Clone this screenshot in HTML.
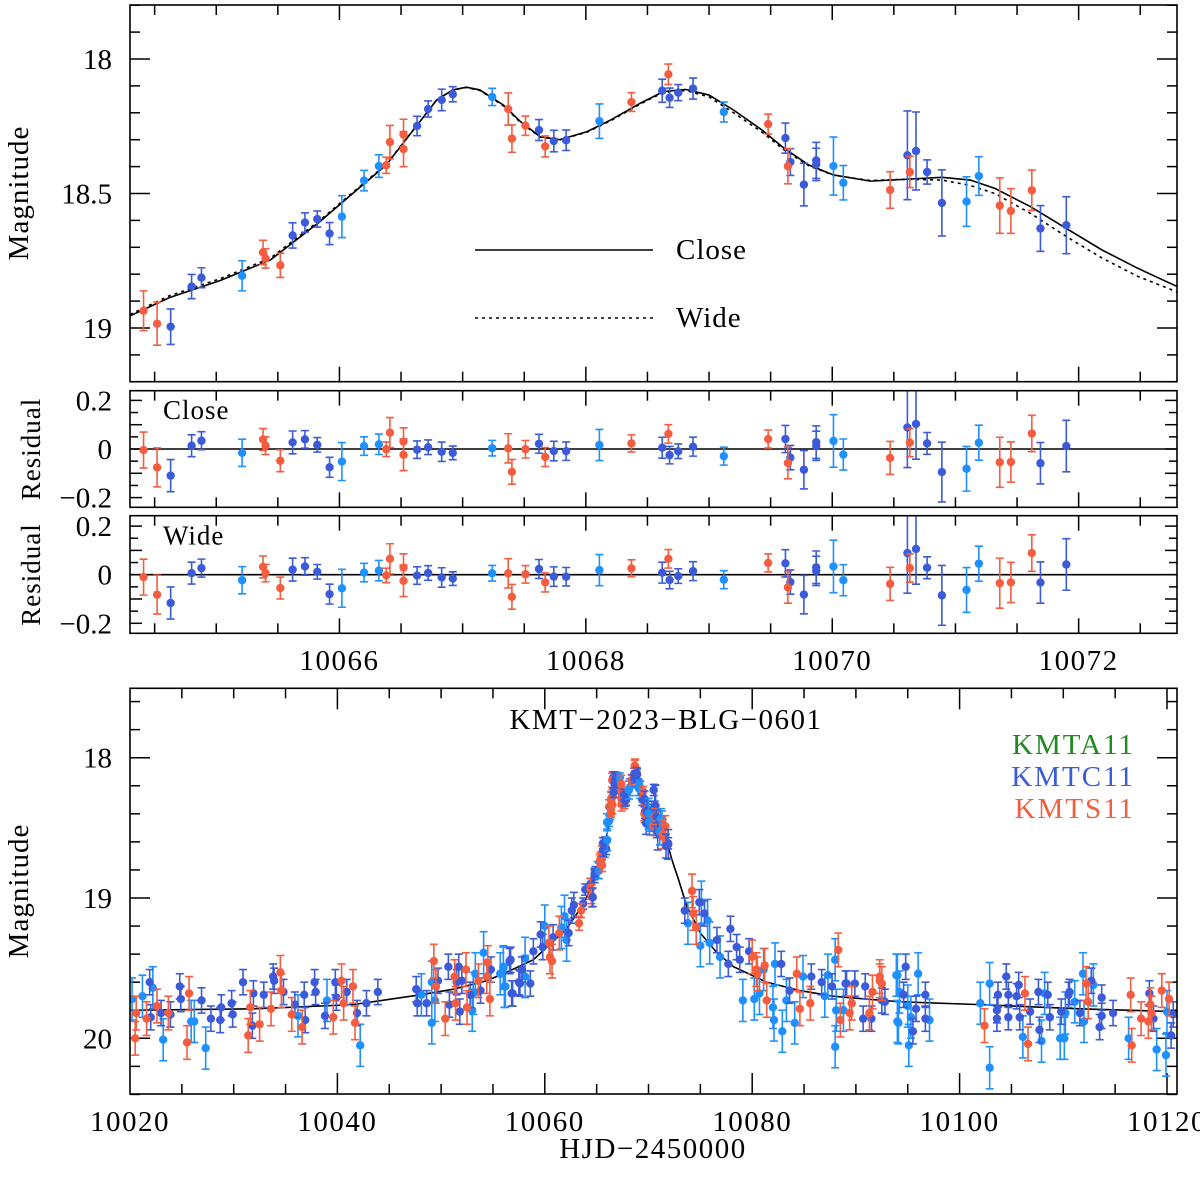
<!DOCTYPE html>
<html><head><meta charset="utf-8"><style>
html,body{margin:0;padding:0;background:#fff}
svg{display:block}
text{font-family:"Liberation Serif",serif}
</style></head><body>
<svg id="chart" width="1200" height="1181" viewBox="0 0 1200 1181" xmlns="http://www.w3.org/2000/svg">
<defs>
<clipPath id="clipTop"><rect x="130" y="5" width="1047" height="376.7"/></clipPath>
<clipPath id="clipRC"><rect x="130" y="390.7" width="1047" height="116.6"/></clipPath>
<clipPath id="clipRW"><rect x="130" y="515.7" width="1047" height="117.6"/></clipPath>
<clipPath id="clipBot"><rect x="130" y="688.3" width="1047" height="405.7"/></clipPath>
</defs>
<g id="layer"></g>
</svg>
<script>
// ---------- data ----------
const topTimes=[10064.41,10064.52,10064.63,10064.80,10064.88,10065.21,10065.38,10065.40,10065.52,10065.62,10065.72,10065.82,10065.92,10066.02,10066.20,10066.32,10066.38,10066.41,10066.52,10066.52,10066.63,10066.72,10066.83,10066.92,10067.24,10067.37,10067.40,10067.51,10067.62,10067.67,10067.74,10067.84,10068.11,10068.37,10068.62,10068.67,10068.68,10068.75,10068.87,10069.12,10069.48,10069.62,10069.66,10069.64,10069.77,10069.87,10069.87,10070.01,10070.09,10070.47,10070.61,10070.68,10070.63,10070.77,10070.89,10071.09,10071.19,10071.36,10071.45,10071.62,10071.69,10071.90];
const topMags=[18.936,18.984,18.995,18.846,18.813,18.806,18.719,18.741,18.767,18.656,18.608,18.595,18.649,18.586,18.452,18.398,18.395,18.309,18.281,18.335,18.249,18.186,18.152,18.131,18.141,18.186,18.296,18.248,18.264,18.325,18.305,18.302,18.231,18.16,18.118,18.057,18.144,18.125,18.11,18.197,18.242,18.294,18.383,18.399,18.467,18.377,18.392,18.398,18.46,18.487,18.358,18.342,18.42,18.42,18.535,18.53,18.435,18.545,18.565,18.488,18.63,18.618];
const topErrs=[.074,.08,.066,.045,.037,.056,.045,.036,.045,.047,.036,.03,.041,.078,.038,.042,.03,.062,.057,.065,.036,.03,.04,.028,.032,.06,.051,.036,.039,.039,.04,.038,.064,.035,.043,.038,.036,.03,.039,.037,.037,.056,.05,.065,.079,.067,.06,.108,.064,.068,.165,.145,.058,.045,.123,.092,.072,.103,.083,.075,.085,.106];
const topTel="SSCCCASSSCCCCAAASSSSCCCCASSSCSCCASCSCCCASCCSCCCAASCCSCCAASSSCC";

const closeModel=[[10064.30,18.955],[10064.62,18.887],[10065.03,18.824],[10065.44,18.747],[10065.84,18.605],[10066.11,18.499],[10066.38,18.394],[10066.60,18.264],[10066.79,18.152],[10066.92,18.115],[10067.03,18.105],[10067.14,18.115],[10067.33,18.171],[10067.47,18.233],[10067.63,18.289],[10067.79,18.30],[10068.01,18.27],[10068.20,18.227],[10068.44,18.165],[10068.63,18.121],[10068.81,18.113],[10069.0,18.134],[10069.2,18.19],[10069.43,18.264],[10069.61,18.332],[10069.81,18.394],[10070.01,18.431],[10070.31,18.454],[10070.60,18.447],[10070.89,18.44],[10071.12,18.45],[10071.32,18.481],[10071.61,18.549],[10071.90,18.63],[10072.19,18.71],[10072.48,18.778],[10072.80,18.846]];
const wideModel=[[10064.30,18.950],[10064.62,18.880],[10065.03,18.817],[10065.44,18.740],[10065.84,18.600],[10066.11,18.495],[10066.38,18.392],[10066.60,18.263],[10066.79,18.152],[10066.92,18.115],[10067.03,18.106],[10067.14,18.117],[10067.33,18.174],[10067.47,18.236],[10067.63,18.291],[10067.79,18.30],[10068.01,18.272],[10068.20,18.230],[10068.44,18.168],[10068.63,18.124],[10068.81,18.117],[10069.0,18.141],[10069.2,18.20],[10069.43,18.272],[10069.61,18.338],[10069.81,18.397],[10070.01,18.432],[10070.31,18.452],[10070.60,18.447],[10070.89,18.450],[10071.12,18.470],[10071.32,18.500],[10071.61,18.574],[10071.90,18.660],[10072.19,18.740],[10072.48,18.808],[10072.80,18.866]];

const bottomA=[[10020.2,19.72],[10021.2,19.70],[10022.2,19.64],[10023.2,20.01],[10025.9,19.88],[10026.2,19.88],[10027.3,20.07],[10036.2,19.84],[10039.0,19.73],[10042.2,20.05],[10048.1,19.69],[10049.1,19.60],[10049.1,19.89],[10049.4,19.73],[10053.0,19.80],[10053.1,19.68],[10053.3,19.54],[10054.1,19.39],[10056.0,19.49],[10056.1,19.63],[10055.7,19.54],[10056.0,19.50],[10056.2,19.63],[10058.1,19.43],[10058.1,19.56],[10060.0,19.20],[10061.6,19.21],[10061.9,19.13],[10062.1,19.30],[10065.1,18.80],[10065.8,18.65],[10066.0,18.46],[10066.9,18.18],[10068.2,18.21],[10069.0,18.21],[10069.2,18.23],[10070.1,18.49],[10070.3,18.37],[10071.3,18.44],[10073.8,19.18],[10075.0,19.34],[10075.1,19.03],[10075.7,19.16],[10075.9,19.32],[10076.9,19.42],[10079.1,19.73],[10080.2,19.72],[10080.7,19.68],[10081.1,19.51],[10082.0,19.78],[10082.1,19.87],[10082.2,19.47],[10082.9,19.95],[10083.3,19.73],[10084.1,19.89],[10084.9,19.56],[10087.0,19.70],[10087.3,19.55],[10088.0,20.06],[10088.0,19.44],[10088.1,19.80],[10088.8,19.80],[10093.9,19.55],[10094.1,19.89],[10094.0,19.55],[10094.0,19.88],[10094.2,19.67],[10095.0,19.77],[10095.1,20.05],[10095.3,19.85],[10096.0,19.54],[10097.1,19.87],[10102.0,19.75],[10102.9,19.61],[10102.9,20.21],[10106.1,19.99],[10107.9,20.02],[10108.2,19.68],[10109.7,20.00],[10110.1,20.00],[10110.2,19.82],[10111.1,19.74],[10111.9,19.54],[10112.0,19.88],[10112.9,19.62],[10116.3,20.00],[10119.0,20.08],[10119.9,20.12],[10120.0,19.81]];
const bottomC=[[10021.9,19.60],[10022.0,19.85],[10023.0,19.82],[10023.9,19.83],[10024.8,19.63],[10024.9,19.72],[10026.9,19.73],[10027.8,19.86],[10028.7,19.87],[10028.8,19.78],[10029.8,19.75],[10029.9,19.83],[10030.9,19.60],[10031.8,19.91],[10031.9,19.68],[10032.9,19.69],[10033.8,19.56],[10033.9,19.59],[10034.8,19.67],[10035.9,19.76],[10036.8,19.69],[10036.9,19.87],[10037.8,19.60],[10037.9,19.67],[10038.8,19.84],[10039.8,19.60],[10039.9,19.71],[10040.9,19.67],[10041.9,19.82],[10042.8,19.75],[10043.9,19.67],[10047.6,19.65],[10047.7,19.75],[10048.6,19.75],[10049.7,19.59],[10050.7,19.49],[10050.8,19.76],[10051.5,19.60],[10051.7,19.49],[10051.8,19.81],[10052.0,19.59],[10052.8,19.69],[10053.8,19.66],[10054.8,19.51],[10056.7,19.44],[10056.8,19.68],[10057.5,19.60],[10056.6,19.45],[10056.9,19.68],[10057.6,19.61],[10057.8,19.51],[10058.6,19.61],[10058.9,19.38],[10059.6,19.26],[10059.8,19.35],[10060.8,19.28],[10062.3,19.25],[10062.6,19.09],[10062.8,19.05],[10063.7,19.04],[10063.9,18.94],[10064.4,18.90],[10064.8,18.83],[10065.6,18.61],[10066.6,18.14],[10067.9,18.25],[10068.4,18.16],[10068.9,18.12],[10069.4,18.30],[10069.8,18.44],[10070.5,18.23],[10070.6,18.35],[10070.8,18.53],[10071.9,18.61],[10073.5,19.09],[10074.9,19.03],[10075.4,19.11],[10076.6,19.30],[10077.7,19.47],[10077.9,19.22],[10078.5,19.35],[10078.8,19.44],[10079.7,19.38],[10082.8,19.47],[10083.6,19.66],[10085.7,19.56],[10086.7,19.60],[10087.7,19.63],[10089.0,19.61],[10089.1,19.61],[10089.9,19.61],[10090.7,19.86],[10090.9,19.63],[10091.5,19.86],[10092.8,19.74],[10092.5,19.73],[10094.6,19.69],[10094.8,19.49],[10095.5,19.95],[10095.8,19.79],[10096.7,19.69],[10096.7,19.86],[10103.6,19.80],[10103.7,19.69],[10103.6,19.86],[10104.5,19.56],[10104.7,19.69],[10104.7,19.85],[10105.5,19.70],[10105.7,19.62],[10105.8,19.85],[10106.8,19.81],[10107.6,19.67],[10107.7,19.94],[10108.5,19.69],[10108.7,19.85],[10109.8,19.81],[10110.5,19.69],[10110.6,19.67],[10111.6,19.82],[10112.7,19.59],[10113.5,19.92],[10113.7,19.84],[10113.7,19.71],[10114.8,19.82],[10118.3,19.68],[10118.7,19.86],[10120.4,19.98],[10120.6,19.83]];
const bottomS=[[10020.6,19.82],[10020.5,20.00],[10021.6,19.86],[10022.6,19.77],[10023.7,19.82],[10025.5,20.03],[10025.7,19.68],[10031.4,19.98],[10031.6,19.78],[10032.5,19.90],[10033.6,19.79],[10034.5,19.53],[10034.6,19.66],[10035.6,19.83],[10036.6,19.92],[10039.6,19.85],[10040.4,19.59],[10040.6,19.75],[10041.5,19.63],[10041.7,19.89],[10049.3,19.45],[10049.5,19.63],[10050.4,19.86],[10051.3,19.56],[10051.4,19.75],[10052.4,19.51],[10052.5,19.78],[10053.6,19.59],[10054.4,19.56],[10054.5,19.46],[10054.7,19.72],[10060.4,19.32],[10060.5,19.42],[10060.7,19.45],[10061.4,19.25],[10063.3,19.18],[10063.5,19.09],[10064.5,18.99],[10065.3,18.74],[10065.5,18.68],[10066.2,18.35],[10066.4,18.29],[10066.5,18.16],[10067.1,18.23],[10067.4,18.33],[10067.6,18.31],[10068.7,18.06],[10069.6,18.40],[10070.9,18.44],[10071.4,18.49],[10071.6,18.57],[10074.2,18.95],[10074.3,19.11],[10074.6,19.21],[10080.0,19.42],[10080.4,19.51],[10080.5,19.54],[10081.2,19.48],[10081.4,19.73],[10084.3,19.54],[10084.6,19.79],[10085.6,19.75],[10088.3,19.37],[10088.5,19.87],[10089.4,19.82],[10089.6,19.75],[10091.3,19.82],[10091.6,19.67],[10092.3,19.56],[10092.5,19.61],[10092.3,19.59],[10102.4,19.91],[10106.3,19.68],[10106.6,20.04],[10112.2,19.61],[10112.4,19.74],[10116.5,19.69],[10116.6,20.05],[10117.5,19.86],[10118.2,19.88],[10118.4,19.76],[10118.5,19.82],[10119.5,19.66],[10120.2,19.72]];
const typicalErr={A:0.15,C:0.09,S:0.12};
const peakErr={A:0.06,C:0.04,S:0.05};
const bottomModelWings=[[10020,19.80],[10031.9,19.79],[10041.5,19.76],[10048,19.69],[10051.2,19.65],[10054.4,19.59],[10056,19.54],[10058.9,19.44],[10062.1,19.22],[10063.2,19.10],[10064.0,19.00]];
const bottomModelTail=[[10073.7,19.06],[10075,19.25],[10076.6,19.39],[10078.2,19.49],[10081.4,19.60],[10084.6,19.66],[10087.8,19.70],[10091,19.72],[10094.3,19.74],[10102,19.76],[10111.6,19.79],[10121,19.81]];
const topXTicks=[10066,10068,10070,10072];
const topYTicks=["18","18.5","19"];
const resYTicks=["0.2","0","−0.2"];
const botXTicks=["10020","10040","10060","10080","10100","10120"];
const botYTicks=["18","19","20"];

// ---------- scales ----------
const L=130,R=1177;
const xT=t=>L+(t-10064.30)*123.2;
const yT=m=>59+(m-18)*269;
const yRC=r=>449-r*243;
const yRW=r=>574.7-r*243;
const xB=t=>L+(t-10020)*10.37;
const yB=m=>757.7+(m-18)*140.3;
const COL={A:"#1e90ff",C:"#3b5bd9",S:"#f45d3f"};

const NS="http://www.w3.org/2000/svg";
const root=document.getElementById('layer');
function mk(tag,attrs,parent){const e=document.createElementNS(NS,tag);for(const k in attrs)e.setAttribute(k,attrs[k]);(parent||root).appendChild(e);return e;}
function grp(name,clip){const g=mk('g',clip?{'clip-path':'url(#'+clip+')'}:{});


return g;}
function interp(model,t){if(t<=model[0][0])return model[0][1];for(let i=1;i<model.length;i++){if(t<=model[i][0]){const a=model[i-1],b=model[i];return a[1]+(b[1]-a[1])*(t-a[0])/(b[0]-a[0]);}}return model[model.length-1][1];}
function point(g,x,y,ey1,ey2,c,nm){
  const p=mk('g',{},g);
  
  
  mk('line',{x1:x,x2:x,y1:ey1,y2:ey2,stroke:c,'stroke-width':1.6},p);
  mk('line',{x1:x-4,x2:x+4,y1:ey1,y2:ey1,stroke:c,'stroke-width':1.6},p);
  mk('line',{x1:x-4,x2:x+4,y1:ey2,y2:ey2,stroke:c,'stroke-width':1.6},p);
  mk('circle',{cx:x,cy:y,r:4.2,fill:c},p);
}
function curve(g,model,xs,ys,dash,nm){
  const d=model.map((p,i)=>(i?'L':'M')+xs(p[0]).toFixed(2)+','+ys(p[1]).toFixed(2)).join('');
  const e=mk('path',{d:d,fill:'none',stroke:'#000','stroke-width':1.6,'stroke-dasharray':dash||'none'},g);
  
  
}
function frame(y0,y1,nm){const e=mk('rect',{x:L,y:y0,width:R-L,height:y1-y0,fill:'none',stroke:'#000','stroke-width':1.6});

}
function tick(g,x1,y1,x2,y2){mk('line',{x1,y1,x2,y2,stroke:'#000','stroke-width':1.5},g);}
function label(txt,x,y,anchor,size,nm,extra){const e=mk('text',Object.assign({x,y,'text-anchor':anchor,'font-size':size,fill:'#000'},extra||{}));e.textContent=txt;


return e;}

// ---------- top panel ----------
(function(){
  const ticks=grp('top-panel-ticks');
  for(let v=17.8;v<=19.2001;v+=0.1){const y=yT(v);const major=Math.abs(v*2-Math.round(v*2))<1e-6;const l=major?20:10;tick(ticks,L,y,L+l,y);tick(ticks,R,y,R-l,y);}
  const xtick=(g,y0,y1)=>{for(let t=10064.5;t<=10072.8;t+=0.5){const x=xT(t);const major=Math.abs(t/2-Math.round(t/2))<1e-6;const l=major?15:10;tick(g,x,y0,x,y0+l);tick(g,x,y1,x,y1-l);}};
  xtick(ticks,5,381.7);
  topYTicks.forEach(s=>label(s,112,yT(parseFloat(s))+10,'end',29,'top-y-tick-label'));
  const mg=grp('close-model-curve','clipTop');curve(mg,closeModel,xT,yT,null,'close-model-line');
  const wg=grp('wide-model-curve','clipTop');curve(wg,wideModel,xT,yT,'3,4','wide-model-line');
  const pts=grp('top-data-points','clipTop');
  topTimes.forEach((t,i)=>{const c=COL[topTel[i]];point(pts,xT(t),yT(topMags[i]),yT(topMags[i]-topErrs[i]),yT(topMags[i]+topErrs[i]),c,'top-point');});
  frame(5,381.7,'top-panel-frame');
  const lg=grp('model-legend');
  mk('line',{x1:475,x2:653,y1:250,y2:250,stroke:'#000','stroke-width':1.6},lg);
  mk('line',{x1:475,x2:653,y1:318,y2:318,stroke:'#000','stroke-width':1.6,'stroke-dasharray':'3,4'},lg);
  label('Close',676,259,'start',29,'legend-close-label',{'letter-spacing':'1'});
  label('Wide',676,327,'start',29,'legend-wide-label',{'letter-spacing':'1'});
  label('Magnitude',28,193,'middle',29,'top-y-axis-title',{transform:'rotate(-90 28 193)','letter-spacing':'1'});

  [['close',closeModel,yRC,390.7,507.3,'clipRC','Close'],['wide',wideModel,yRW,515.7,633.3,'clipRW','Wide']].forEach(cfg=>{
    const [nm,model,ys,y0,y1,clip,txt]=cfg;
    const tg=grp(nm+'-residual-ticks');
    for(let k=-4;k<=4;k++){const y=ys(k*0.05);if(y<y0||y>y1)continue;const l=(k%2===0)?12:8;tick(tg,L,y,L+l,y);tick(tg,R,y,R-l,y);}
    xtick(tg,y0,y1);
    mk('line',{x1:L,x2:R,y1:ys(0),y2:ys(0),stroke:'#000','stroke-width':1.6},tg);
    const pg=grp(nm+'-residual-points',clip);
    topTimes.forEach((t,i)=>{const r=interp(model,t)-topMags[i];const e=topErrs[i];point(pg,xT(t),ys(r),ys(r+e),ys(r-e),COL[topTel[i]],nm+'-residual-point');});
    frame(y0,y1,nm+'-residual-frame');
    resYTicks.forEach((s,j)=>{const v=[0.2,0,-0.2][j];label(s,112,ys(v)+10,'end',29,nm+'-res-tick-label');});
    label(txt,163,(y0+y1)/2-30,'start',27,nm+'-panel-label',{'letter-spacing':'1'});
    const cy=(y0+y1)/2;
    label('Residual',40,cy,'middle',27,nm+'-y-axis-title',{transform:'rotate(-90 40 '+cy+')','letter-spacing':'1'});
  });
  topXTicks.forEach(t=>label(String(t),xT(t),670,'middle',29,'top-x-tick-label',{'letter-spacing':'1.5'}));
})();

// ---------- bottom panel ----------
(function(){
  const tg=grp('bottom-panel-ticks');
  for(let v=17.6;v<=20.4001;v+=0.2){const y=yB(v);const major=Math.abs(v-Math.round(v))<1e-6;const l=major?20:10;tick(tg,L,y,L+l,y);tick(tg,R,y,R-l,y);}
  for(let t=10025;t<=10120.5;t+=5){const x=xB(t);const major=t%20===0;const l=major?21:10;tick(tg,x,688.3,x,688.3+l);tick(tg,x,1094,x,1094-l);}
  const mg=grp('bottom-model-curve','clipBot');
  curve(mg,bottomModelWings.concat(closeModel,bottomModelTail),xB,yB,null,'bottom-model-line');
  const pg=grp('bottom-data-points','clipBot');
  [['A',bottomA],['C',bottomC],['S',bottomS]].forEach(([k,arr])=>{
    arr.forEach(p=>{const e=(p[0]>10063&&p[0]<10073)?peakErr[k]:typicalErr[k];point(pg,xB(p[0]),yB(p[1]),yB(p[1]-e),yB(p[1]+e),COL[k],'bottom-point');});
  });
  topTimes.forEach((t,i)=>{point(pg,xB(t),yB(topMags[i]),yB(topMags[i]-topErrs[i]),yB(topMags[i]+topErrs[i]),COL[topTel[i]],'bottom-point');});
  frame(688.3,1094,'bottom-panel-frame');
  botYTicks.forEach(s=>label(s,112,yB(parseFloat(s))+10,'end',29,'bottom-y-tick-label'));
  botXTicks.forEach(s=>label(s,xB(parseFloat(s)),1131,'middle',29,'bottom-x-tick-label',{'letter-spacing':'1.5'}));
  label('HJD−2450000',653,1158,'middle',29,'x-axis-title',{'letter-spacing':'1.5'});
  label('Magnitude',28,891,'middle',29,'bottom-y-axis-title',{transform:'rotate(-90 28 891)','letter-spacing':'1'});
  label('KMT−2023−BLG−0601',666,729,'middle',29,'chart-title',{'letter-spacing':'1.5'});
  label('KMTA11',1135,754,'end',29,'legend-kmta11',{fill:'#1f8a1f','letter-spacing':'2'});
  label('KMTC11',1135,786,'end',29,'legend-kmtc11',{fill:'#3b5bd9','letter-spacing':'2'});
  label('KMTS11',1135,818,'end',29,'legend-kmts11',{fill:'#f45d3f','letter-spacing':'2'});
})();
</script>
</body></html>
